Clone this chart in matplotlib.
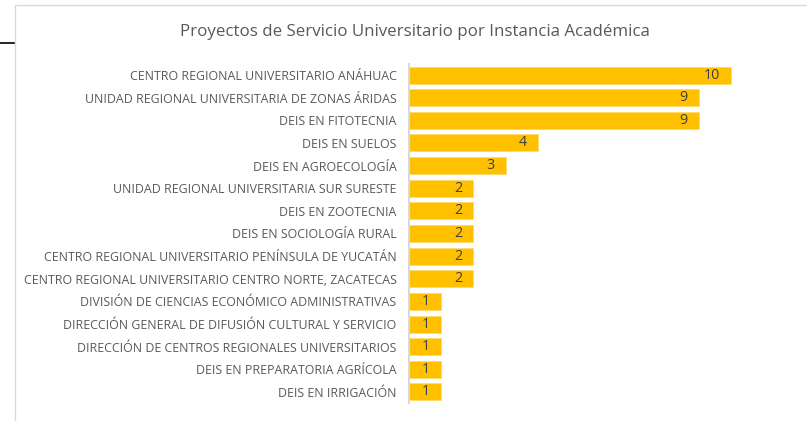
import matplotlib
matplotlib.use("Agg")
import matplotlib.pyplot as plt
from matplotlib.lines import Line2D
from matplotlib.patches import Rectangle

categories = [
    "CENTRO REGIONAL UNIVERSITARIO ANÁHUAC",
    "UNIDAD REGIONAL UNIVERSITARIA DE ZONAS ÁRIDAS",
    "DEIS EN FITOTECNIA",
    "DEIS EN SUELOS",
    "DEIS EN AGROECOLOGÍA",
    "UNIDAD REGIONAL UNIVERSITARIA SUR SURESTE",
    "DEIS EN ZOOTECNIA",
    "DEIS EN SOCIOLOGÍA RURAL",
    "CENTRO REGIONAL UNIVERSITARIO PENÍNSULA DE YUCATÁN",
    "CENTRO REGIONAL UNIVERSITARIO CENTRO NORTE, ZACATECAS",
    "DIVISIÓN DE CIENCIAS ECONÓMICO ADMINISTRATIVAS",
    "DIRECCIÓN GENERAL DE DIFUSIÓN CULTURAL Y SERVICIO",
    "DIRECCIÓN DE CENTROS REGIONALES UNIVERSITARIOS",
    "DEIS EN PREPARATORIA AGRÍCOLA",
    "DEIS EN IRRIGACIÓN",
]
values = [10, 9, 9, 4, 3, 2, 2, 2, 2, 2, 1, 1, 1, 1, 1]
title = "Proyectos de Servicio Universitario por Instancia Académica"

plt.rcParams['font.family'] = ['Open Sans', 'DejaVu Sans']

W, H = 807, 421
fig = plt.figure(figsize=(W / 100, H / 100), dpi=100)

# frame decorations
fig.add_artist(Rectangle((15 / W, -0.01), 1.0, 1 - 5 / H + 0.01, transform=fig.transFigure,
                         fill=False, edgecolor="#D9D9D9", linewidth=1.0))
fig.add_artist(Line2D([0, 14 / W], [1 - 43 / H, 1 - 43 / H], transform=fig.transFigure,
                      color="black", linewidth=1.2))

left, right = 409, 795
top, bottom = 63.7, 403.3
ax = fig.add_axes([left / W, 1 - bottom / H, (right - left) / W, (bottom - top) / H])

y = list(range(len(categories)))
ax.barh(y, values, height=0.75, color="#FFC000", edgecolor="#FFD966", linewidth=0.5)
ax.set_ylim(len(categories) - 0.5, -0.5)
ax.set_xlim(0, 12)
ax.set_yticks(y)
ax.set_yticklabels(categories, fontsize=8.9, color="#595959")
ax.tick_params(axis='y', length=0, pad=9)
ax.set_xticks([])
for s in ["top", "right", "bottom"]:
    ax.spines[s].set_visible(False)
ax.spines["left"].set_color("#D9D9D9")
ax.spines["left"].set_linewidth(1.5)

for yi, v in zip(y, values):
    ax.annotate(str(v), xy=(v, yi), xytext=(-8, 0), textcoords="offset points",
                ha="right", va="center", fontsize=10.3, color="#404040")

fig.text(415 / W, 1 - 32 / H, title, ha="center", va="center", fontsize=12.2, color="#595959")

fig.savefig("out.png", dpi=100)
